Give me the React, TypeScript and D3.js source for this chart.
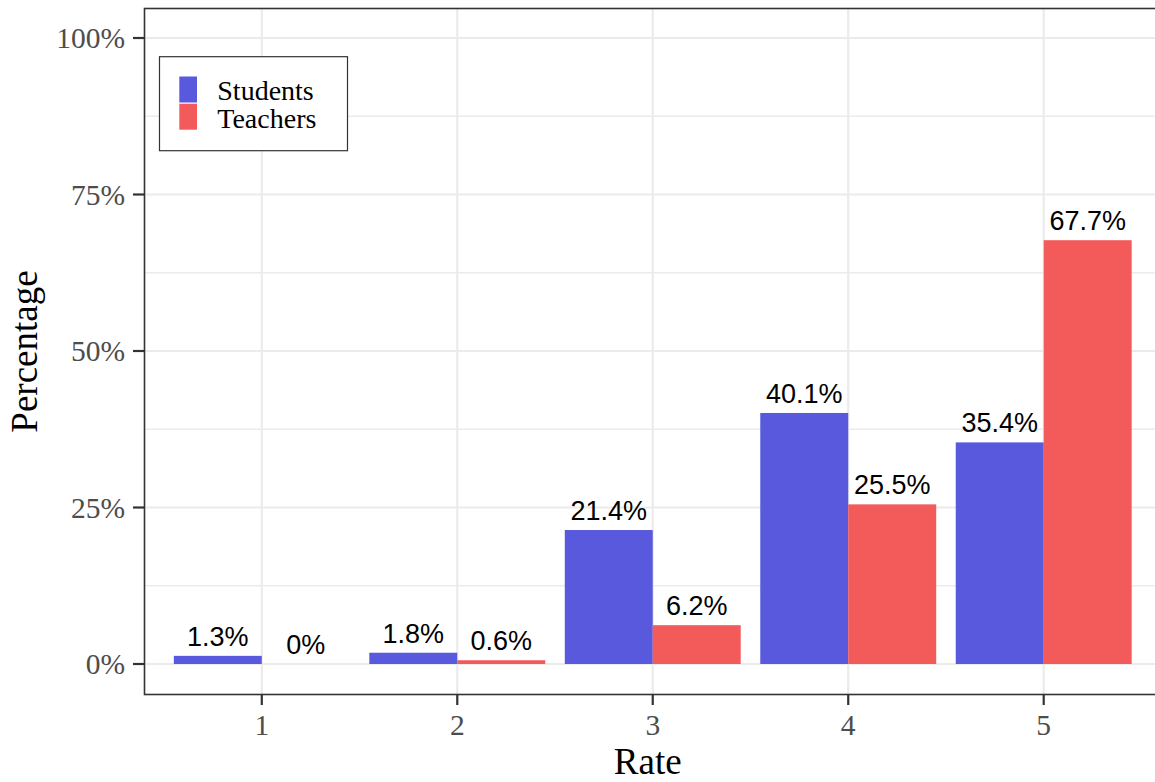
import React from "react";
import * as d3 from "d3";

const categories = [1, 2, 3, 4, 5];
const students = [1.3, 1.8, 21.4, 40.1, 35.4];
const teachers = [0, 0.6, 6.2, 25.5, 67.7];
const seriesNames = ["Students", "Teachers"];
const seriesColors = ["#5959DD", "#F35A5A"];
const yTicks = [0, 25, 50, 75, 100];
const yMinor = [12.5, 37.5, 62.5, 87.5];

const W = 1155;
const H = 782;
const PL = 144.5;
const PR = 1161;
const PT = 8.5;
const PB = 694.5;

export default function App() {
  const x = d3.scaleLinear().domain([0.4, 5.6]).range([PL, PR]);
  const y = d3.scaleLinear().domain([0, 100]).range([664, 38]);
  const step = x(2) - x(1);
  const bw = step * 0.45;
  const serif = "'Liberation Serif', 'Times New Roman', serif";
  const sans = "'Liberation Sans', Arial, sans-serif";
  const series = [students, teachers];

  return (
    <svg width={W} height={H} style={{ position: "absolute", left: 0, top: 0, background: "#fff" }}>
      <rect x={0} y={0} width={W} height={H} fill="#fff" />
      {yMinor.map((t) => (
        <line key={"mi" + t} x1={PL} x2={PR} y1={y(t)} y2={y(t)} stroke="#ebebeb" strokeWidth={1.3} />
      ))}
      {yTicks.map((t) => (
        <line key={"ma" + t} x1={PL} x2={PR} y1={y(t)} y2={y(t)} stroke="#ebebeb" strokeWidth={2.2} />
      ))}
      {categories.map((c) => (
        <line key={"vx" + c} x1={x(c)} x2={x(c)} y1={PT} y2={PB} stroke="#ebebeb" strokeWidth={2.2} />
      ))}
      {series.map((vals, si) =>
        vals.map((v, i) => {
          const x0 = x(categories[i]) - bw + si * bw;
          return (
            <rect
              key={si + "-" + i}
              x={x0}
              y={y(v)}
              width={bw}
              height={y(0) - y(v)}
              fill={seriesColors[si]}
            />
          );
        })
      )}
      {series.map((vals, si) =>
        vals.map((v, i) => {
          const cx = x(categories[i]) - bw / 2 + si * bw;
          return (
            <text
              key={"l" + si + "-" + i}
              x={cx}
              y={y(v) - 10}
              textAnchor="middle"
              fontFamily={sans}
              fontSize={27}
              fill="#000"
            >
              {`${v}%`}
            </text>
          );
        })
      )}
      <rect x={PL} y={PT} width={PR - PL} height={PB - PT} fill="none" stroke="#333" strokeWidth={1.6} />
      {yTicks.map((t) => (
        <g key={"yt" + t}>
          <line x1={133} x2={PL} y1={y(t)} y2={y(t)} stroke="#333" strokeWidth={2.2} />
          <text
            x={125}
            y={y(t)}
            dy="0.34em"
            textAnchor="end"
            fontFamily={serif}
            fontSize={29.5}
            fill="#4d4d4d"
          >
            {`${t}%`}
          </text>
        </g>
      ))}
      {categories.map((c) => (
        <g key={"xt" + c}>
          <line x1={x(c)} x2={x(c)} y1={PB} y2={705} stroke="#333" strokeWidth={2.2} />
          <text x={x(c)} y={735} textAnchor="middle" fontFamily={serif} fontSize={29.5} fill="#4d4d4d">
            {String(c)}
          </text>
        </g>
      ))}
      <text x={(PL + PR) / 2 - 5} y={774} textAnchor="middle" fontFamily={serif} fontSize={37} fill="#000">
        Rate
      </text>
      <text
        transform={`translate(37, ${(PT + PB) / 2}) rotate(-90)`}
        textAnchor="middle"
        fontFamily={serif}
        fontSize={37}
        fill="#000"
      >
        Percentage
      </text>
      <rect x={159.5} y={56.7} width={188} height={94} fill="#fff" stroke="#333" strokeWidth={1.2} />
      {seriesNames.map((n, i) => (
        <g key={"lg" + n}>
          <rect x={179.3} y={76.5 + i * 27.2} width={17.7} height={26} fill={seriesColors[i]} />
          <text x={217.3} y={100 + i * 27.5} fontFamily={serif} fontSize={28} fill="#000">
            {n}
          </text>
        </g>
      ))}
    </svg>
  );
}
